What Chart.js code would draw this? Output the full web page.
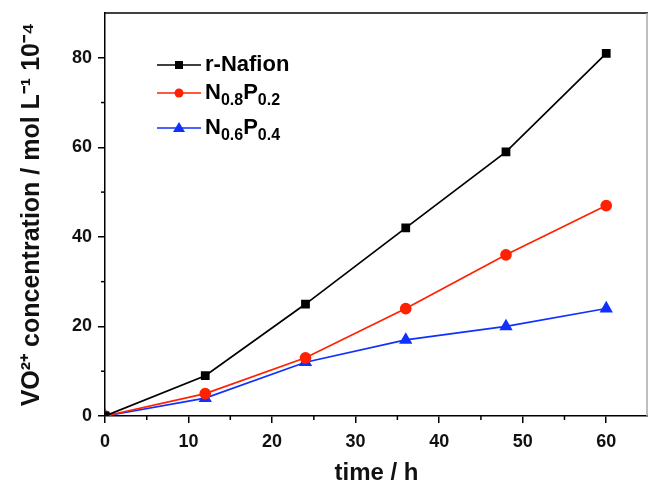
<!DOCTYPE html>
<html>
<head>
<meta charset="utf-8">
<script src="https://cdn.jsdelivr.net/npm/chart.js@4/dist/chart.umd.min.js"></script>
<style>
html,body{margin:0;padding:0;background:#fff;}
#wrap{position:relative;width:648px;height:488px;}
</style>
</head>
<body>
<div id="wrap"><canvas id="c" width="648" height="488"></canvas></div>
<script>
const times = [0, 12, 24, 36, 48, 60];
const rNafion = [0, 9, 25, 42, 59, 81];
const n08p02 = [0, 5, 13, 24, 36, 47];
const n06p04 = [0, 4, 12, 17, 20, 24];
const seriesNames = [
  [{t:'r-Nafion', s:false}],
  [{t:'N', s:false},{t:'0.8', s:true},{t:'P', s:false},{t:'0.2', s:true}],
  [{t:'N', s:false},{t:'0.6', s:true},{t:'P', s:false},{t:'0.4', s:true}]
];
const xTitle = 'time / h';
const yTitle = 'VO²⁺ concentration / mol L⁻¹ 10⁻⁴';

const FONT = 'Liberation Sans, Arial, sans-serif';
const toPts = v => times.map((t,i)=>({x:t,y:v[i]}));

const frame = {
  id:'frame',
  afterDraw(chart){
    const ctx = chart.ctx, a = chart.chartArea;
    const xs = chart.scales.x, ys = chart.scales.y;
    ctx.save();
    ctx.strokeStyle = '#000'; ctx.lineWidth = 1.5;
    ctx.beginPath(); ctx.moveTo(a.left, a.top); ctx.lineTo(a.right, a.top); ctx.stroke();
    ctx.strokeStyle = '#aaa'; ctx.lineWidth = 1.5;
    ctx.beginPath(); ctx.moveTo(a.right - 1, a.top); ctx.lineTo(a.right - 1, a.bottom); ctx.stroke();
    // minor ticks
    ctx.strokeStyle = '#000'; ctx.lineWidth = 1.5;
    for (let v = 5; v < 65; v += 10) {
      const px = xs.getPixelForValue(v);
      ctx.beginPath(); ctx.moveTo(px, a.bottom); ctx.lineTo(px, a.bottom + 4); ctx.stroke();
    }
    for (let v = 10; v < 90; v += 20) {
      const py = ys.getPixelForValue(v);
      ctx.beginPath(); ctx.moveTo(a.left, py); ctx.lineTo(a.left - 4, py); ctx.stroke();
    }
    // legend
    const rows = [65, 93, 128];
    const ds = chart.data.datasets;
    rows.forEach((ry, i) => {
      const d = ds[i];
      ctx.strokeStyle = d.borderColor; ctx.lineWidth = 1.7;
      ctx.beginPath(); ctx.moveTo(157, ry); ctx.lineTo(201, ry); ctx.stroke();
      ctx.fillStyle = d.pointBackgroundColor;
      const mx = 179;
      if (d.pointStyle === 'rect') {
        ctx.fillRect(mx - 4, ry - 4, 8, 8);
      } else if (d.pointStyle === 'circle') {
        ctx.beginPath(); ctx.arc(mx, ry, 4.5, 0, Math.PI*2); ctx.fill();
      } else {
        ctx.beginPath(); ctx.moveTo(mx, ry - 6); ctx.lineTo(mx + 6, ry + 4); ctx.lineTo(mx - 6, ry + 4); ctx.closePath(); ctx.fill();
      }
      ctx.fillStyle = '#000';
      ctx.textBaseline = 'middle'; ctx.textAlign = 'left';
      let x = 205;
      seriesNames[i].forEach(p => {
        ctx.font = p.s ? 'bold 16px ' + FONT : 'bold 22px ' + FONT;
        ctx.fillText(p.t, x, p.s ? ry + 8 : ry);
        x += ctx.measureText(p.t).width;
      });
    });
    ctx.restore();
  }
};

const mk = (label, v, color, style, r) => ({
  label, data: toPts(v), borderColor: color, backgroundColor: color,
  pointBackgroundColor: color, pointBorderColor: color, pointStyle: style,
  pointRadius: r, borderWidth: 1.7, tension: 0
});

new Chart(document.getElementById('c'), {
  type: 'line',
  data: { datasets: [
    mk('r-Nafion', rNafion, '#000000', 'rect', 5),
    mk('N0.8P0.2', n08p02, '#ff2200', 'circle', 5),
    mk('N0.6P0.4', n06p04, '#1030ff', 'triangle', 6)
  ]},
  options: {
    responsive: false, animation: false, devicePixelRatio: 1,
    layout: { autoPadding: false, padding: { left: 0, right: 0, top: 13, bottom: 0 } },
    plugins: { legend: { display: false }, tooltip: { enabled: false } },
    scales: {
      x: {
        type: 'linear', min: 0, max: 65,
        afterFit(s){ s.height = 72; s.paddingLeft = 0; s.paddingRight = 0; },
        ticks: { stepSize: 10, includeBounds: false, color: '#111', padding: 8, maxRotation: 0,
                 font: { family: FONT, size: 18, weight: 'bold' } },
        grid: { drawOnChartArea: false, tickLength: 7, color: '#000', lineWidth: 1.5 },
        border: { display: true, color: '#000', width: 1.5 },
        title: { display: true, text: xTitle, color: '#111', padding: { top: 8, bottom: 0 },
                 font: { family: FONT, size: 24, weight: 'bold' } }
      },
      y: {
        type: 'linear', min: 0, max: 90,
        afterFit(s){ s.width = 105; s.paddingTop = 0; s.paddingBottom = 0; },
        ticks: { stepSize: 20, includeBounds: false, color: '#111', padding: 6,
                 font: { family: FONT, size: 18, weight: 'bold' } },
        grid: { drawOnChartArea: false, tickLength: 7, color: '#000', lineWidth: 1.5 },
        border: { display: true, color: '#000', width: 1.5 },
        title: { display: true, text: yTitle, color: '#111', padding: { top: 17, bottom: 0 },
                 font: { family: FONT, size: 25, weight: 'bold' } }
      }
    }
  },
  plugins: [frame]
});
</script>
</body>
</html>
